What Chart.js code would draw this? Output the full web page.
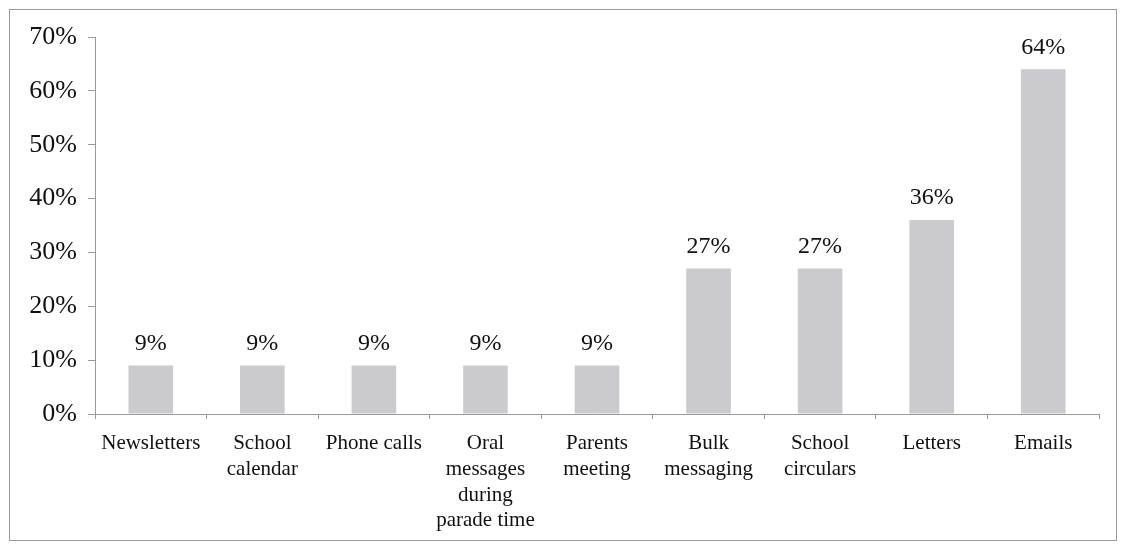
<!DOCTYPE html>
<html>
<head>
<meta charset="utf-8">
<script src="https://cdn.jsdelivr.net/npm/chart.js@4"></script>
<style>
  html, body { margin: 0; padding: 0; background: #fff; }
  #frame {
    position: absolute; left: 9px; top: 9px;
    width: 1106px; height: 530px;
    border: 1px solid #9a9a9a;
  }
  canvas { display: block; }
</style>
</head>
<body>
<div id="frame"><canvas id="chart" width="1106" height="530"></canvas></div>
<script>
// category labels (multi-line as shown under the axis)
const categories = [
  ["Newsletters"],
  ["School", "calendar"],
  ["Phone calls"],
  ["Oral", "messages", "during", "parade time"],
  ["Parents", "meeting"],
  ["Bulk", "messaging"],
  ["School", "circulars"],
  ["Letters"],
  ["Emails"],
];
const shares = [9, 9, 9, 9, 9, 27, 27, 36, 64];
const yTicks = [0, 10, 20, 30, 40, 50, 60, 70];

const SERIF = "'Liberation Serif', 'DejaVu Serif', serif";

// draw the % value above each bar
const valueLabels = {
  id: "valueLabels",
  afterDatasetsDraw(chart) {
    const { ctx } = chart;
    const meta = chart.getDatasetMeta(0);
    ctx.save();
    ctx.font = `24px ${SERIF}`;
    ctx.fillStyle = "#111";
    ctx.textAlign = "center";
    ctx.textBaseline = "bottom";
    meta.data.forEach((bar, i) => {
      ctx.fillText(shares[i] + "%", bar.x, bar.y - 10);
    });
    ctx.restore();
  },
};

new Chart(document.getElementById("chart"), {
  type: "bar",
  data: {
    labels: categories,
    datasets: [{
      data: shares,
      backgroundColor: "#cbcbcf",
      borderWidth: 0,
      barPercentage: 0.4,
      categoryPercentage: 1,
    }],
  },
  options: {
    responsive: false,
    animation: false,
    layout: { padding: { top: 27, right: 17, left: 0, bottom: 0 } },
    plugins: {
      legend: { display: false },
      tooltip: { enabled: false },
    },
    scales: {
      x: {
        grid: {
          display: true,
          offset: true,
          drawOnChartArea: false,
          tickLength: 5,
          color: "#9a9a9a",
        },
        border: { color: "#9a9a9a", width: 1 },
        ticks: {
          color: "#111",
          font: { family: SERIF, size: 21, lineHeight: 1.22 },
          padding: 12,
          maxRotation: 0,
          autoSkip: false,
        },
        afterFit: (scale) => { scale.height = 126; },
      },
      y: {
        min: 0,
        max: 70,
        afterBuildTicks: (scale) => { scale.ticks = yTicks.map((v) => ({ value: v })); },
        grid: {
          display: true,
          drawOnChartArea: false,
          tickLength: 7,
          color: "#9a9a9a",
        },
        border: { color: "#9a9a9a", width: 1 },
        ticks: {
          color: "#111",
          font: { family: SERIF, size: 26 },
          padding: 11,
          callback: (v) => v + "%",
        },
        afterFit: (scale) => { scale.width = 85; },
      },
    },
  },
  plugins: [valueLabels],
});
</script>
</body>
</html>
